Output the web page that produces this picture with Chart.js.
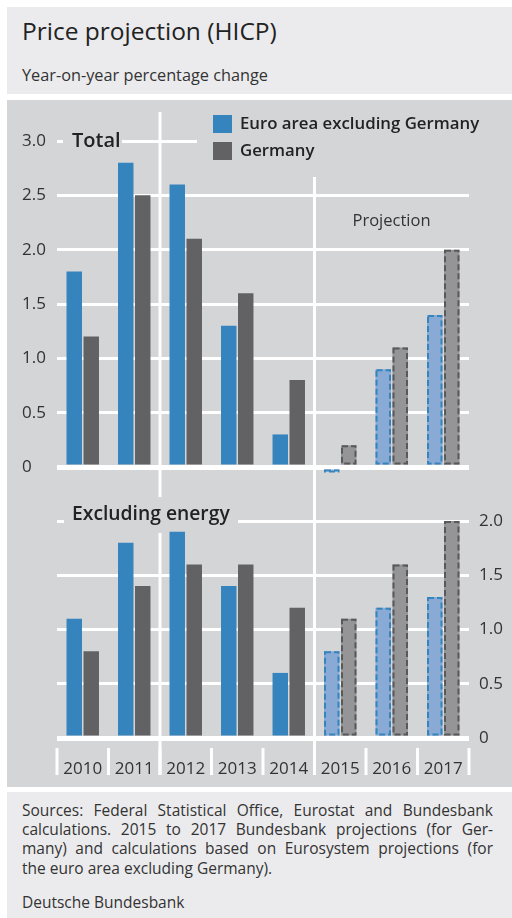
<!DOCTYPE html>
<html>
<head>
<meta charset="utf-8">
<script src="https://cdn.jsdelivr.net/npm/chart.js@4.4.0/dist/chart.umd.min.js"></script>
<style>
    body { margin: 0; width: 512px; height: 918px; background: #fff; position: relative; overflow: hidden; font-family: 'Open Sans', 'Noto Sans', sans-serif; }
    #head { position: absolute; left: 7px; top: 7px; width: 505px; height: 87px; background: #ebebed; }
    #head h1 { position: absolute; left: 15px; top: 12px; margin: 0; font-size: 24.5px; line-height: 1; font-weight: 400; color: #222; white-space: nowrap; }
    #head p { position: absolute; left: 15px; top: 60px; margin: 0; font-size: 16.3px; line-height: 1; color: #333; white-space: nowrap; }
    #panel { position: absolute; left: 7px; top: 100px; width: 505px; height: 687px; background: #d4d5d7; }
    #panel canvas { position: absolute; left: 0; }
    #foot { position: absolute; left: 7px; top: 792px; width: 505px; height: 126px; background: #ebebed; box-sizing: border-box; padding: 9px 19px 0 15px; color: #333; font-size: 15.5px; line-height: 19.2px; }
    #foot span { display: block; white-space: nowrap; }
    #foot .j { text-align: justify; text-align-last: justify; white-space: normal; }
    #foot .src { margin-top: 15px; }
</style>
</head>
<body>
<div id="head">
    <h1>Price projection (HICP)</h1>
    <p>Year-on-year percentage change</p>
</div>
<div id="panel">
    <canvas id="topChart" width="505" height="380" style="top:0"></canvas>
    <canvas id="bottomChart" width="505" height="307" style="top:380px"></canvas>
</div>
<div id="foot">
    <span class="j">Sources: Federal Statistical Office, Eurostat and Bundesbank</span>
    <span class="j">calculations. 2015 to 2017 Bundesbank projections (for Ger-</span>
    <span class="j">many) and calculations based on Eurosystem projections (for</span>
    <span>the euro area excluding Germany).</span>
    <span class="src">Deutsche Bundesbank</span>
</div>
<script>
    const years = ['2010', '2011', '2012', '2013', '2014', '2015', '2016', '2017'];
    const seriesNames = ['Euro area excluding Germany', 'Germany'];

    // Total HICP
    const totalEuro = [1.8, 2.8, 2.6, 1.3, 0.3, -0.03, 0.9, 1.4];
    const totalGermany = [1.2, 2.5, 2.1, 1.6, 0.8, 0.2, 1.1, 2.0];

    // HICP excluding energy
    const exEnergyEuro = [1.1, 1.8, 1.9, 1.4, 0.6, 0.8, 1.2, 1.3];
    const exEnergyGermany = [0.8, 1.4, 1.6, 1.6, 1.2, 1.1, 1.6, 2.0];

    const topTicks = [0, 0.5, 1, 1.5, 2, 2.5, 3];
    const bottomTicks = [0, 0.5, 1, 1.5, 2];

    const projectionFrom = '2015';
    const breakYears = ['2012', '2015'];

    const FONT = "'Open Sans', 'Noto Sans', sans-serif";
    const colors = {
        euro: '#3584bd',
        euroProj: '#89aad4',
        euroDash: '#3584bd',
        de: '#626264',
        deProj: '#959597',
        deDash: '#59595b',
        panel: '#d4d5d7',
        text: '#333',
        dark: '#222',
    };
    const projIdx = years.indexOf(projectionFrom);

    function barColors(solid, light) {
        return years.map((y, i) => i >= projIdx ? light : solid);
    }

    function makeDatasets(euro, germany) {
        return [
            { label: seriesNames[0], data: euro, backgroundColor: barColors(colors.euro, colors.euroProj), dashColor: colors.euroDash },
            { label: seriesNames[1], data: germany, backgroundColor: barColors(colors.de, colors.deProj), dashColor: colors.deDash },
        ].map(d => Object.assign(d, { categoryPercentage: 0.66, barPercentage: 0.91, borderWidth: 0 }));
    }

    function tickLabel(v) {
        return v === 0 ? '0' : v.toFixed(1);
    }

    // separators, year ticks, in-panel labels and legend
    const decor = {
        id: 'decor',
        beforeDatasetsDraw(chart, args, opts) {
            const ctx = chart.ctx;
            const xs = chart.scales.x;
            const half = (xs.getPixelForValue(1) - xs.getPixelForValue(0)) / 2;
            const edge = i => xs.getPixelForValue(0) - half + 2 * half * i;

            ctx.save();
            ctx.strokeStyle = '#fff';
            ctx.lineWidth = 3;
            const line = (x, y1, y2) => {
                ctx.beginPath();
                ctx.moveTo(x, y1);
                ctx.lineTo(x, y2);
                ctx.stroke();
            };
            if (opts.yearTicks) {
                for (let i = 0; i <= years.length; i++) {
                    line(edge(i), opts.yearTicks[0], opts.yearTicks[1]);
                }
            }
            breakYears.forEach((y, k) => {
                line(edge(years.indexOf(y)), opts.breakTop[k], opts.breakBottom);
            });

            (opts.boxes || []).forEach(b => {
                ctx.fillStyle = colors.panel;
                ctx.fillRect(b.x, b.y, b.w, b.h);
            });

            (opts.texts || []).forEach(t => {
                ctx.fillStyle = t.color;
                ctx.font = t.font;
                ctx.textAlign = t.align || 'left';
                ctx.textBaseline = 'middle';
                ctx.fillText(t.text, t.x, t.y);
            });

            if (opts.legend) {
                const lg = opts.legend;
                chart.data.datasets.forEach((ds, i) => {
                    const y = lg.y + i * lg.step;
                    ctx.fillStyle = ds.backgroundColor[0];
                    ctx.fillRect(lg.x, y, lg.box[0], lg.box[1]);
                    ctx.fillStyle = colors.dark;
                    ctx.font = '600 16.8px ' + FONT;
                    ctx.textAlign = 'left';
                    ctx.textBaseline = 'middle';
                    ctx.fillText(ds.label, lg.textX, y + lg.box[1] / 2);
                });
            }
            ctx.restore();
        },
        afterDatasetsDraw(chart) {
            // dashed outline for projected bars
            const ctx = chart.ctx;
            chart.data.datasets.forEach((ds, di) => {
                const meta = chart.getDatasetMeta(di);
                meta.data.forEach((bar, i) => {
                    if (i < projIdx) return;
                    const { x, y, base, width } = bar.getProps(['x', 'y', 'base', 'width'], true);
                    const top = Math.min(y, base);
                    const h = Math.abs(base - y);
                    ctx.save();
                    ctx.setLineDash([6, 3]);
                    ctx.lineWidth = 2;
                    ctx.strokeStyle = ds.dashColor;
                    ctx.strokeRect(x - width / 2 + 1, top + 1, width - 2, Math.max(h - 2, 1));
                    ctx.restore();
                });
            });
        },
    };

    function yScale(ticks, min, max, position, width, tickOpts) {
        return {
            position: position,
            min: min,
            max: max,
            afterBuildTicks: s => { s.ticks = ticks.map(v => ({ value: v })); },
            afterFit: s => {
                s.width = width;
                s.paddingTop = 0;
                s.paddingBottom = 0;
            },
            grid: { color: '#fff', lineWidth: c => c.tick && c.tick.value === 0 ? 5 : 3, drawTicks: false },
            border: { display: false },
            ticks: Object.assign({ color: colors.text, font: { family: FONT, size: 17 }, callback: tickLabel }, tickOpts),
        };
    }

    new Chart(document.getElementById('topChart'), {
        type: 'bar',
        data: { labels: years, datasets: makeDatasets(totalEuro, totalGermany) },
        options: {
            responsive: false,
            animation: false,
            layout: { padding: { left: 15, right: 43, top: 41, bottom: 2.1 } },
            plugins: {
                legend: { display: false },
                tooltip: { enabled: false },
                decor: {
                    breakTop: [12, 77],
                    breakBottom: 380,
                    boxes: [
                        { x: 56, y: 28, w: 59, h: 27 },
                        { x: 190, y: 0, w: 315, h: 77 },
                    ],
                    texts: [
                        { text: 'Total', x: 65, y: 41, font: '600 20px ' + FONT, color: colors.dark },
                        { text: 'Projection', x: 384.5, y: 121, font: '16.5px ' + FONT, color: colors.text, align: 'center' },
                    ],
                    legend: { x: 206, y: 15, step: 27, box: [19, 18], textX: 233 },
                },
            },
            scales: {
                x: { display: false },
                y: yScale(topTicks, -0.1, 3, 'left', 35, { crossAlign: 'far', padding: 0 }),
            },
        },
        plugins: [decor],
    });

    new Chart(document.getElementById('bottomChart'), {
        type: 'bar',
        data: { labels: years, datasets: makeDatasets(exEnergyEuro, exEnergyGermany) },
        options: {
            responsive: false,
            animation: false,
            layout: { padding: { left: 50, right: 0, top: 41, bottom: 0 } },
            plugins: {
                legend: { display: false },
                tooltip: { enabled: false },
                decor: {
                    breakTop: [0, 0],
                    breakBottom: 295,
                    yearTicks: [268, 295],
                    boxes: [{ x: 57, y: 17, w: 174, h: 36 }],
                    texts: [
                        { text: 'Excluding energy', x: 65, y: 35, font: '600 19.3px ' + FONT, color: colors.dark },
                    ],
                },
            },
            scales: {
                x: {
                    afterFit: s => { s.height = 49; },
                    grid: { display: false, drawTicks: false },
                    border: { display: false },
                    ticks: { padding: 21, color: colors.text, font: { family: FONT, size: 17 }, maxRotation: 0 },
                },
                y: yScale(bottomTicks, 0, 2, 'right', 43, { padding: 10 }),
            },
        },
        plugins: [decor],
    });
</script>
</body>
</html>
